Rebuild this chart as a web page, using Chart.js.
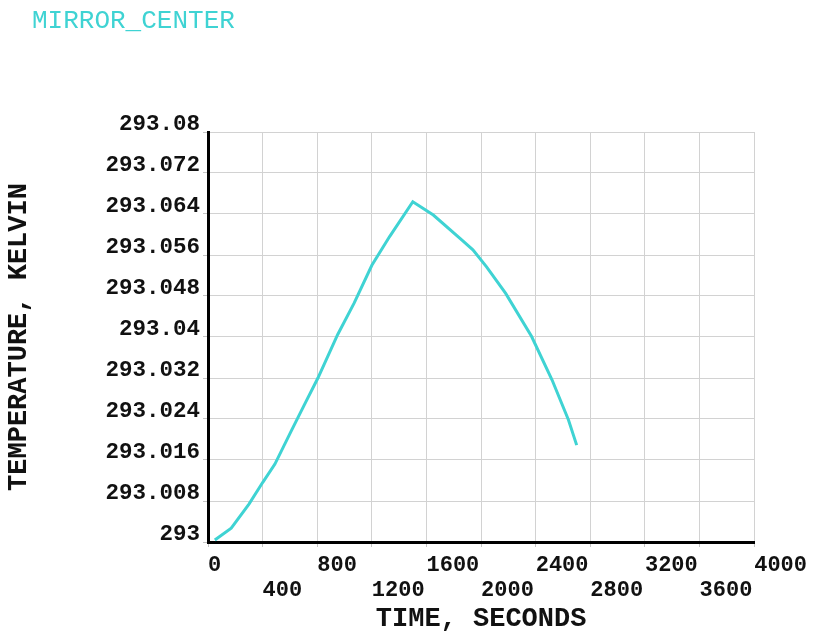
<!DOCTYPE html>
<html>
<head>
<meta charset="utf-8">
<script src="https://cdn.jsdelivr.net/npm/chart.js@4/dist/chart.umd.min.js"></script>
<style>
  html, body { margin: 0; padding: 0; background: #ffffff; }
  canvas { display: block; }
</style>
</head>
<body>
<canvas id="chart" width="813" height="633"></canvas>
<script>
// Temperature history at the mirror centre node
const chartCaption = 'MIRROR_CENTER';
const timeSeconds = [50, 170, 300, 400, 490, 610, 710, 805, 950, 1070, 1200, 1330, 1500,
                     1650, 1860, 1940, 2040, 2180, 2370, 2520, 2640, 2700];
const temperatureK = [293.0004, 293.0027, 293.0074, 293.0116, 293.0152, 293.0217, 293.0270,
                      293.0320, 293.0405, 293.0466, 293.0540, 293.0596, 293.0664, 293.0638,
                      293.0589, 293.0570, 293.0537, 293.0485, 293.0401, 293.0316, 293.0238,
                      293.0189];

const xTickValues = [0, 400, 800, 1200, 1600, 2000, 2400, 2800, 3200, 3600, 4000];
const xTickLabels = ['0', '400', '800', '1200', '1600', '2000', '2400', '2800', '3200', '3600', '4000'];
const yTickValues = [293, 293.008, 293.016, 293.024, 293.032, 293.04, 293.048, 293.056, 293.064, 293.072, 293.08];
const yTickLabels = ['293', '293.008', '293.016', '293.024', '293.032', '293.04', '293.048', '293.056', '293.064', '293.072', '293.08'];

const xTitle = 'TIME, SECONDS';
const yTitle = 'TEMPERATURE, KELVIN';

const MONO = '"Liberation Mono", "DejaVu Sans Mono", monospace';

// Caption in the top-left corner of the canvas
const captionPlugin = {
  id: 'caption',
  afterDraw(chart) {
    const ctx = chart.ctx;
    ctx.save();
    ctx.font = '26px ' + MONO;
    ctx.fillStyle = '#3fd3d3';
    ctx.textAlign = 'left';
    ctx.textBaseline = 'middle';
    ctx.fillText(chartCaption, 32, 21);
    ctx.restore();
  }
};

new Chart(document.getElementById('chart'), {
  type: 'line',
  data: {
    datasets: [{
      data: timeSeconds.map((t, i) => ({ x: t, y: temperatureK[i] })),
      borderColor: '#3fd3d3',
      borderWidth: 3,
      pointRadius: 0,
      tension: 0,
      fill: false
    }]
  },
  options: {
    responsive: false,
    animation: false,
    events: [],
    layout: { padding: { top: 132, right: 57, left: 0, bottom: 0 } },
    plugins: {
      legend: { display: false },
      tooltip: { enabled: false },
      title: { display: false }
    },
    scales: {
      x: {
        type: 'linear',
        min: 0,
        max: 4000,
        afterBuildTicks: s => { s.ticks = xTickValues.map(v => ({ value: v })); },
        afterFit: s => { s.height = 91; },
        grid: { color: '#d2d2d2', lineWidth: 1, tickLength: 5, tickColor: '#c4c4c4' },
        border: { color: '#000000', width: 3 },
        ticks: {
          autoSkip: false,
          maxRotation: 0,
          minRotation: 0,
          align: 'start',
          padding: 6,
          color: '#111111',
          font: { family: MONO, size: 22, weight: 'bold', lineHeight: 1.15 },
          callback: (v, i) => (i % 2 ? ['', xTickLabels[i]] : xTickLabels[i])
        },
        title: {
          display: true,
          text: xTitle,
          color: '#111111',
          padding: { top: 0, bottom: 0 },
          font: { family: MONO, size: 27, weight: 'bold', lineHeight: 1 }
        }
      },
      y: {
        type: 'linear',
        min: 293,
        max: 293.08,
        afterBuildTicks: s => { s.ticks = yTickValues.map(v => ({ value: v })); },
        afterFit: s => { s.width = 208; },
        grid: { color: '#d2d2d2', lineWidth: 1, tickLength: 5, tickColor: '#c4c4c4' },
        border: { color: '#000000', width: 3 },
        ticks: {
          autoSkip: false,
          padding: 3,
          labelOffset: -8,
          color: '#111111',
          font: { family: MONO, size: 22.5, weight: 'bold' },
          callback: (v, i) => yTickLabels[i]
        },
        title: {
          display: true,
          text: yTitle,
          color: '#111111',
          padding: { top: 6, bottom: 0 },
          font: { family: MONO, size: 27, weight: 'bold', lineHeight: 1 }
        }
      }
    }
  },
  plugins: [captionPlugin]
});
</script>
</body>
</html>
